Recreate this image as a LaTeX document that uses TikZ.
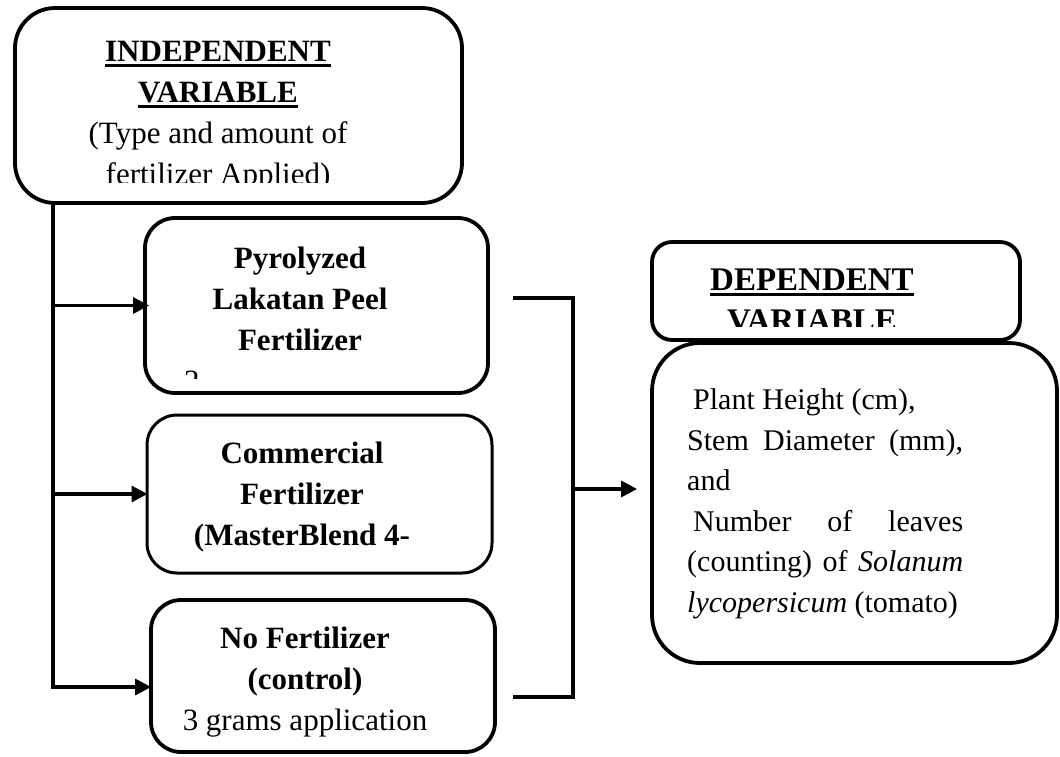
\documentclass[tikz,border=0pt]{standalone}
\usepackage{fontspec}
\setmainfont{Liberation Serif}
\usetikzlibrary{arrows.meta}
\newcommand{\hdline}[1]{\setbox0\hbox{#1}\rlap{\rule[-6pt]{\wd0}{3pt}}\box0}
\tikzset{varbox/.style={draw, line width=3.8pt, rounded corners=30pt, inner sep=0pt}}
\tikzset{boxtext/.style={inner sep=0pt, align=center, font=\fontsize{31}{41}\selectfont}}
\tikzset{link/.style={line width=3.2pt}}
\tikzset{arr/.style={link, -{Triangle[length=16pt,width=16pt]}}}

\begin{document}
\begin{tikzpicture}[x=1pt, y=-1pt]
    \useasboundingbox (0,0) rectangle (1060,756);

    % boxes
    \node[varbox, rounded corners=40pt, minimum width=447pt, minimum height=195pt] (indep) at (238.5,105.5) {};
    \node[varbox, minimum width=343pt, minimum height=175pt] (pyro) at (316.5,305.5) {};
    \node[varbox, line width=3pt, minimum width=345pt, minimum height=158pt] (comm) at (319.5,494) {};
    \node[varbox, minimum width=344pt, minimum height=152pt] (none) at (323,676) {};
    \node[varbox, rounded corners=20pt, minimum width=368pt, minimum height=98pt] (dephead) at (836,291) {};
    \node[varbox, rounded corners=48pt, minimum width=405pt, minimum height=320pt] (depbody) at (854.5,503) {};

    % texts (base = last line)
    \begin{scope}
        \clip (0,0) rectangle (1060,182);
        \node[boxtext, anchor=base] (indeptxt) at (218,184)
            {\hdline{\textbf{INDEPENDENT}}\\ \hdline{\textbf{VARIABLE}}\\ (Type and amount of\\ fertilizer Applied)};
    \end{scope}
    \node[boxtext, anchor=base, font=\fontsize{31}{41}\selectfont\bfseries] (pyrotxt) at (300,350)
        {Pyrolyzed\\ Lakatan Peel\\ Fertilizer};
    \begin{scope}
        \clip (145,218) rectangle (488,378);
        \node[boxtext, anchor=base west] (pyrorate) at (184,391) {2};
    \end{scope}
    \node[boxtext, anchor=base, font=\fontsize{31}{41}\selectfont\bfseries] (commtxt) at (302,545)
        {Commercial\\ Fertilizer\\ (MasterBlend 4-};
    \node[boxtext, anchor=base] (nonetxt) at (305,730)
        {\textbf{No Fertilizer}\\ \textbf{(control)}\\ 3 grams application};
    \begin{scope}
        \clip (652,242) rectangle (1020,326);
        \node[boxtext, anchor=base, font=\fontsize{33}{41}\selectfont\bfseries] (dephtxt) at (812,331)
            {\hdline{DEPENDENT}\\ \hdline{VARIABLE}};
    \end{scope}
    \node[boxtext, anchor=base west, align=left, font=\fontsize{30}{40.5}\selectfont] (depbodytxt) at (687,612)
        {\hspace*{6pt}Plant Height (cm),\\
         \makebox[276pt][s]{Stem Diameter (mm),}\\
         and\\
         \hspace*{6pt}\makebox[270pt][s]{Number of leaves}\\
         \makebox[276pt][s]{(counting) of \textit{Solanum}}\\
         \textit{lycopersicum} (tomato)};

    % connectors
    \coordinate (trunkend) at (53,689);
    \coordinate (nonein) at ([yshift=-11pt]none.west);
    \coordinate (brtop) at (513,298);
    \coordinate (merge) at (573,489);
    \coordinate (brbot) at (513,697);

    \draw[link] (trunkend |- indep.south) -- (trunkend);
    \draw[arr, shorten >=-6pt] (trunkend |- pyro.west) -- (pyro.west);
    \draw[arr, shorten >=-2pt] (trunkend |- comm.west) -- (comm.west);
    \draw[arr, shorten >=-2pt] (trunkend |- nonein) -- (nonein);
    \draw[link] (brtop) -| (merge) |- (brbot);
    \draw[arr, shorten >=13pt] (merge) -- (merge -| depbody.west);
\end{tikzpicture}
\end{document}
